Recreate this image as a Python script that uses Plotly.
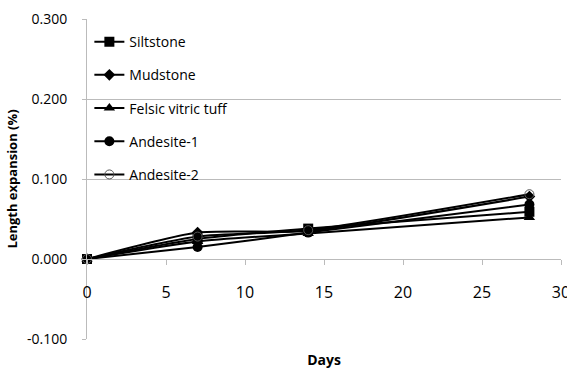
import plotly.graph_objects as go

days = [0, 7, 14, 28]
siltstone = [0.0, 0.025, 0.038, 0.059]
mudstone = [0.0, 0.033, 0.035, 0.078]
felsic = [0.0, 0.022, 0.032, 0.052]
andesite1 = [0.0, 0.015, 0.033, 0.068]
andesite2 = [0.0, 0.028, 0.036, 0.081]

y_ticks = [-0.1, 0.0, 0.1, 0.2, 0.3]
y_labels = ["-0.100", "0.000", "0.100", "0.200", "0.300"]
x_ticks = [0, 5, 10, 15, 20, 25, 30]

series = [
    ("Siltstone", siltstone, dict(symbol="square", size=10, color="black")),
    ("Mudstone", mudstone, dict(symbol="diamond", size=9, color="black")),
    ("Felsic vitric tuff", felsic, dict(symbol="triangle-up", size=10, color="black")),
    ("Andesite-1", andesite1, dict(symbol="circle", size=10, color="black")),
    ("Andesite-2", andesite2, dict(symbol="circle-open", size=9, color="#555555", line=dict(width=1))),
]

fig = go.Figure()
for i, (name, vals, mk) in enumerate(series):
    fig.add_trace(go.Scatter(
        x=days, y=vals, name=name, mode="lines+markers",
        line=dict(color="black", width=2, shape="spline", smoothing=0.6),
        marker=mk, cliponaxis=False, legendgroup=f"g{i}",
    ))

font = "Open Sans"
fig.update_layout(
    width=567, height=369,
    margin=dict(l=87, r=6, t=19, b=30),
    paper_bgcolor="white", plot_bgcolor="white",
    font=dict(family=font, color="black"),
    showlegend=True,
    legend=dict(x=0.005, y=0.978, xanchor="left", yanchor="top",
                bgcolor="rgba(0,0,0,0)", font=dict(size=14, family=font),
                traceorder="grouped", tracegroupgap=12, itemwidth=30),
    xaxis=dict(range=[0, 30], tickvals=x_ticks,
               anchor="free", position=0.25,
               showline=True, linecolor="#BBBBBB", linewidth=1,
               ticks="outside", ticklen=5, tickcolor="#BBBBBB",
               showgrid=False, zeroline=False,
               tickfont=dict(size=16), ticklabelstandoff=14,
               ticklabeloverflow="allow",
               title=dict(text="<b>Days</b>", font=dict(size=14), standoff=54),
               automargin=False),
    yaxis=dict(range=[-0.1, 0.3], tickvals=y_ticks, ticktext=y_labels,
               showline=True, linecolor="#BBBBBB", linewidth=1,
               ticks="outside", ticklen=4, tickcolor="#BBBBBB",
               showgrid=True, gridcolor="#BBBBBB", gridwidth=1,
               zeroline=False, tickfont=dict(size=14), ticklabelstandoff=12,
               title=dict(text="<b>Length expansion (%)</b>", font=dict(size=13), standoff=6),
               automargin=False),
)

fig.write_html("out.html")
